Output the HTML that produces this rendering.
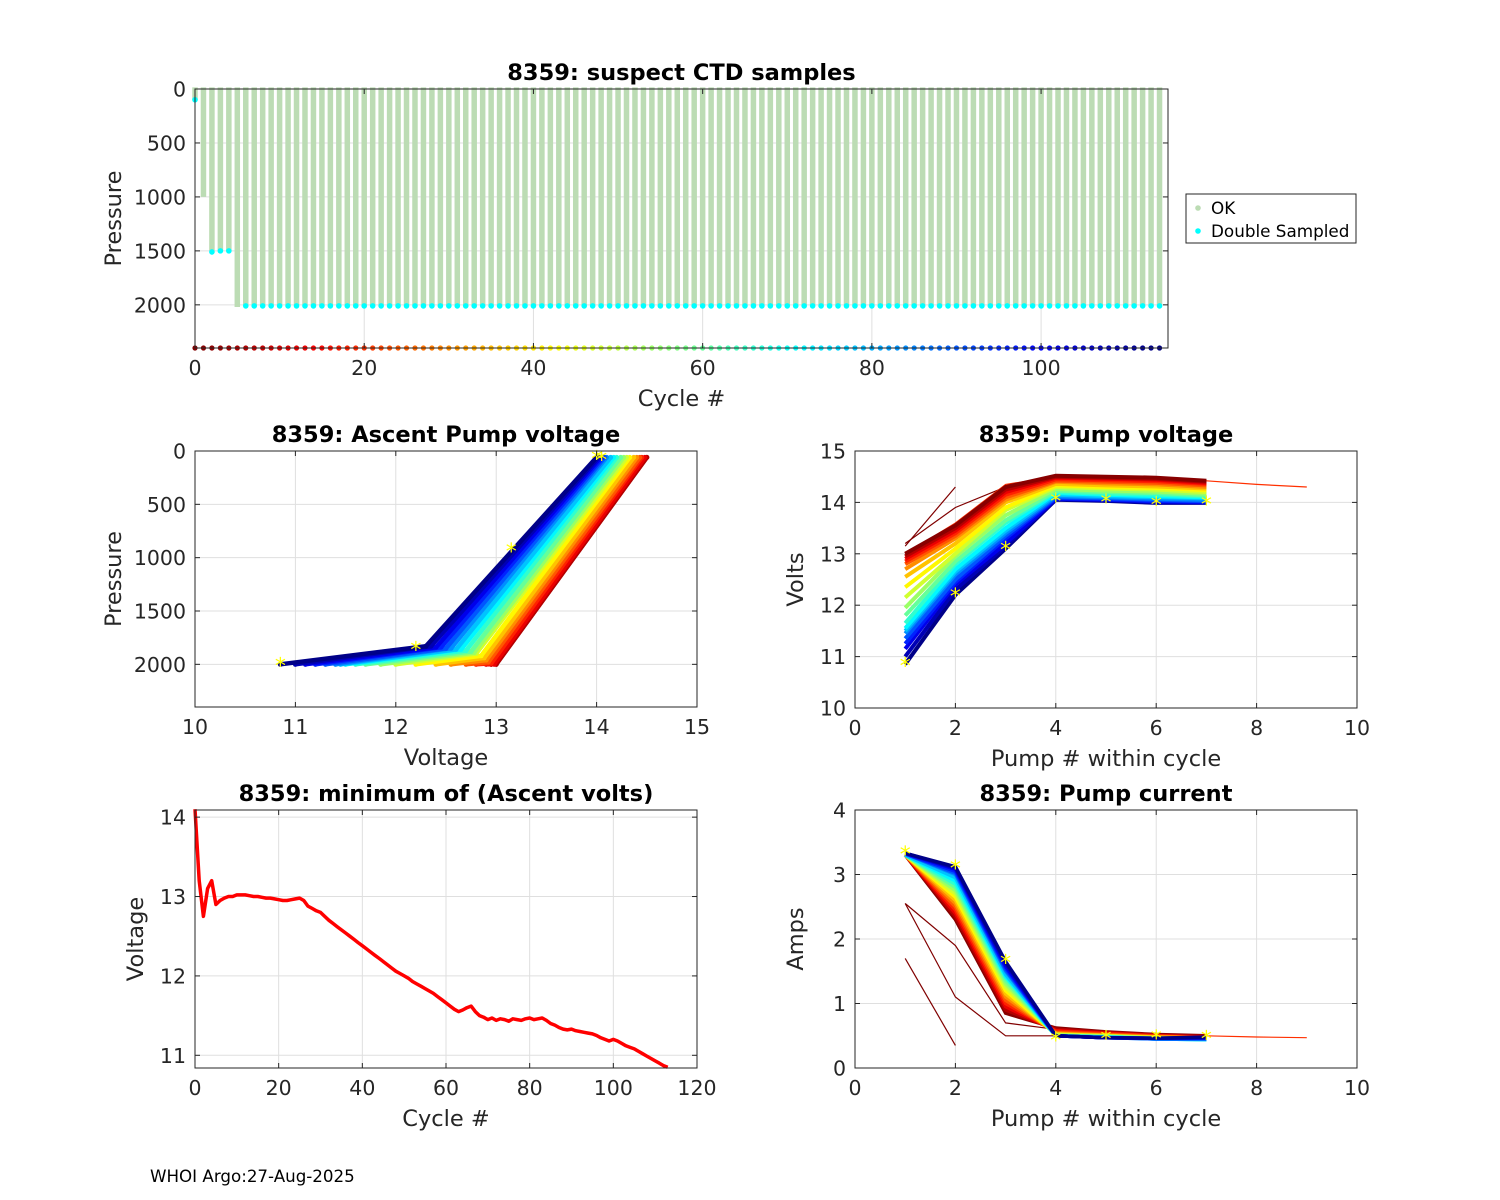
<!DOCTYPE html>
<html><head><meta charset="utf-8">
<style>
html,body{margin:0;padding:0;background:#fff;}
svg{display:block;font-family:"DejaVu Sans","Liberation Sans",sans-serif;}
</style></head>
<body>
<svg id="fig" width="1500" height="1200" viewBox="0 0 1500 1200"></svg>
<script>
// ---------- DATA ----------
const minVolt = [14.1,13.2,12.75,13.1,13.2,12.9,12.95,12.98,13.0,13.0,13.02,13.02,13.02,13.01,13.0,13.0,12.99,12.98,12.98,12.97,12.96,12.95,12.95,12.96,12.97,12.98,12.95,12.88,12.85,12.82,12.8,12.75,12.7,12.66,12.62,12.58,12.54,12.5,12.46,12.42,12.38,12.34,12.3,12.26,12.22,12.18,12.14,12.1,12.06,12.03,12.0,11.97,11.93,11.9,11.87,11.84,11.81,11.78,11.74,11.7,11.66,11.62,11.58,11.55,11.57,11.6,11.62,11.55,11.5,11.48,11.45,11.47,11.44,11.46,11.45,11.43,11.46,11.45,11.44,11.46,11.47,11.45,11.46,11.47,11.44,11.4,11.38,11.35,11.33,11.32,11.33,11.31,11.3,11.29,11.28,11.27,11.25,11.22,11.2,11.18,11.2,11.18,11.15,11.12,11.1,11.08,11.05,11.02,10.99,10.96,10.93,10.9,10.87,10.85];
const ctdCycles = 115;
const ctdMaxP = [100,1000,1500,1500,1500,2020];
const ctdDefaultP = 2000;
const dsP = [100,null,1510,1500,1500,null];

const sampleCycles = [1,6,12,18,24,30,36,42,48,54,60,66,72,78,84,90,96,102,108,113];
const pv1 = [13.0,12.95,12.9,12.85,12.8,12.7,12.55,12.35,12.15,11.95,11.8,11.65,11.55,11.5,11.45,11.35,11.25,11.15,11.0,10.85];
const pv2 = [13.55,13.5,13.45,13.4,13.35,13.3,13.2,13.1,13.0,12.95,12.85,12.8,12.7,12.65,12.6,12.5,12.45,12.4,12.3,12.2];
const pv3 = [14.3,14.25,14.2,14.15,14.1,14.05,14.0,13.9,13.85,13.75,13.65,13.6,13.5,13.45,13.4,13.35,13.3,13.2,13.15,13.1];
const pv4 = [14.52,14.5,14.48,14.45,14.42,14.4,14.36,14.33,14.3,14.26,14.23,14.2,14.18,14.15,14.12,14.1,14.08,14.07,14.06,14.05];
const pv5 = [14.5,14.48,14.46,14.43,14.4,14.37,14.33,14.3,14.27,14.23,14.2,14.17,14.15,14.12,14.1,14.08,14.06,14.05,14.04,14.03];
const pv6 = [14.48,14.46,14.44,14.41,14.38,14.35,14.31,14.28,14.25,14.21,14.18,14.15,14.12,14.1,14.07,14.05,14.03,14.02,14.0,13.99];
const pv7 = [14.42,14.4,14.38,14.36,14.33,14.3,14.27,14.24,14.2,14.17,14.14,14.12,14.1,14.08,14.05,14.03,14.02,14.0,14.0,13.99];
const pi1 = [3.3,3.3,3.3,3.3,3.3,3.3,3.3,3.3,3.3,3.3,3.3,3.3,3.3,3.3,3.32,3.32,3.32,3.33,3.33,3.33];
const pi2 = [2.3,2.35,2.4,2.45,2.5,2.55,2.6,2.65,2.7,2.75,2.8,2.85,2.9,2.95,3.0,3.02,3.05,3.08,3.1,3.12];
const pi3 = [0.85,0.9,0.95,1.0,1.05,1.1,1.15,1.2,1.25,1.3,1.35,1.4,1.42,1.45,1.5,1.52,1.55,1.58,1.62,1.65];
const pi4 = [0.62,0.6,0.58,0.57,0.55,0.54,0.53,0.52,0.52,0.51,0.5,0.5,0.5,0.5,0.5,0.5,0.5,0.5,0.5,0.5];
const pi5 = [0.56,0.55,0.54,0.53,0.52,0.51,0.5,0.5,0.5,0.49,0.49,0.48,0.48,0.48,0.47,0.47,0.47,0.47,0.47,0.47];
const pi6 = [0.52,0.51,0.5,0.5,0.49,0.48,0.48,0.47,0.47,0.46,0.46,0.45,0.45,0.45,0.45,0.45,0.46,0.46,0.46,0.46];
const pi7 = [0.5,0.49,0.48,0.47,0.47,0.46,0.46,0.45,0.45,0.44,0.44,0.44,0.44,0.44,0.45,0.45,0.46,0.47,0.47,0.48];
const ascBotV = [12.95,12.95,12.9,12.8,12.7,12.55,12.4,12.2,12.0,11.85,11.7,11.6,11.5,11.45,11.4,11.3,11.2,11.1,11.0,10.85];
const ascKneeV = [13.0,13.0,12.98,12.95,12.92,12.9,12.88,12.85,12.8,12.78,12.75,12.7,12.65,12.6,12.55,12.5,12.45,12.4,12.35,12.3];
const ascKneeP = [2000,2000,2000,1990,1980,1960,1940,1920,1900,1890,1880,1870,1860,1860,1850,1850,1840,1840,1830,1830];
const ascTopV = [14.5,14.5,14.48,14.45,14.43,14.4,14.37,14.33,14.3,14.27,14.24,14.2,14.17,14.14,14.1,14.08,14.06,14.04,14.02,14.0];
const outlierVolt = [[[1,13.15],[2,14.3]],[[1,13.2],[2,13.9],[3,14.3],[4,14.52]],[[1,13.0],[2,13.6],[3,14.35],[4,14.5],[5,14.48],[6,14.45],[7,14.42],[8,14.35],[9,14.3]]];
const outlierCurr = [[[1,2.55],[2,1.9],[3,0.7],[4,0.6]],[[1,1.7],[2,0.35]],[[1,2.55],[2,1.1],[3,0.5],[4,0.5]],[[1,3.3],[2,2.3],[3,0.85],[4,0.62],[5,0.56],[6,0.52],[7,0.5],[8,0.48],[9,0.47]]];

// ---------- HELPERS ----------
const NS="http://www.w3.org/2000/svg";
const fig=document.getElementById('fig');
function el(tag,attrs,parent){const e=document.createElementNS(NS,tag);for(const k in attrs)e.setAttribute(k,attrs[k]);(parent||fig).appendChild(e);return e;}
function jet(t){const c=v=>Math.round(255*Math.max(0,Math.min(1,v)));return `rgb(${c(1.5-Math.abs(4*t-3))},${c(1.5-Math.abs(4*t-2))},${c(1.5-Math.abs(4*t-1))})`;}
function cycColor(c){return jet(1-c/114);}
function panel(name,x0,y0,w,h,xmin,xmax,ymin,ymax,rev,xt,yt,title,xlabel,ylabel){
  const g=el('g',{});  
  const sx=v=>x0+(v-xmin)/(xmax-xmin)*w;
  const sy=rev?(v=>y0+(v-ymin)/(ymax-ymin)*h):(v=>y0+h-(v-ymin)/(ymax-ymin)*h);
  const grid=el('g',{},g);  
  xt.forEach(v=>el('line',{x1:sx(v),x2:sx(v),y1:y0,y2:y0+h,stroke:'#dfdfdf','stroke-width':1},grid));
  yt.forEach(v=>el('line',{x1:x0,x2:x0+w,y1:sy(v),y2:sy(v),stroke:'#dfdfdf','stroke-width':1},grid));
  const data=el('g',{},g);  
  const ax=el('g',{},g);
  el('rect',{x:x0,y:y0,width:w,height:h,fill:'none',stroke:'#262626','stroke-width':1},ax);
  xt.forEach(v=>{el('line',{x1:sx(v),x2:sx(v),y1:y0+h,y2:y0+h-5,stroke:'#262626'},ax);el('line',{x1:sx(v),x2:sx(v),y1:y0,y2:y0+5,stroke:'#262626'},ax);
    const t=el('text',{x:sx(v),y:y0+h+27,'text-anchor':'middle','font-size':20.5,fill:'#262626'},ax);t.textContent=v;});
  yt.forEach(v=>{el('line',{x1:x0,x2:x0+5,y1:sy(v),y2:sy(v),stroke:'#262626'},ax);el('line',{x1:x0+w,x2:x0+w-5,y1:sy(v),y2:sy(v),stroke:'#262626'},ax);
    const t=el('text',{x:x0-9,y:sy(v)+7.5,'text-anchor':'end','font-size':20.5,fill:'#262626'},ax);t.textContent=v;});
  const tt=el('text',{x:x0+w/2,y:y0-9,'text-anchor':'middle','font-size':22.5,'font-weight':'bold',fill:'#000'},g);tt.textContent=title;
  const xl=el('text',{x:x0+w/2,y:y0+h+58,'text-anchor':'middle','font-size':22.5,fill:'#262626'},g);xl.textContent=xlabel;
  const ylx=x0-(yt.some(v=>String(v).length>=4)?74:52);
  const yl=el('text',{x:ylx,y:y0+h/2,'text-anchor':'middle','font-size':22.5,fill:'#262626',transform:`rotate(-90 ${ylx} ${y0+h/2})`},g);yl.textContent=ylabel;
  return {sx,sy,data};
}
function poly(pts,attrs,parent){return el('polyline',Object.assign({points:pts.map(p=>p[0].toFixed(1)+','+p[1].toFixed(1)).join(' '),fill:'none'},attrs),parent);}
function star(P,p){const s=el('text',{x:P.sx(p[0]),y:P.sy(p[1])+9,'text-anchor':'middle','font-size':22,fill:'#ffff00'},P.data);s.textContent='*';}

// ---------- TOP: CTD samples ----------
(function(){
  const P=panel('ctd-samples-chart',195,89,973,259,0,115,0,2400,true,[0,20,40,60,80,100],[0,500,1000,1500,2000],'8359: suspect CTD samples','Cycle #','Pressure');
  for(let c=0;c<ctdCycles;c++){
    const mp=c<ctdMaxP.length?ctdMaxP[c]:ctdDefaultP;
    const b=el('line',{x1:P.sx(c),x2:P.sx(c),y1:P.sy(-15),y2:P.sy(mp),stroke:'#bcdcb4','stroke-width':5.5},P.data);
     
  }
  for(let c=0;c<ctdCycles;c++){
    const d=c<dsP.length?dsP[c]:2010; if(d==null)continue;
    const m=el('circle',{cx:P.sx(c),cy:P.sy(d),r:2.8,fill:'#00ffff'},P.data);
     
  }
  for(let c=0;c<ctdCycles;c++){
    const m=el('circle',{cx:P.sx(c),cy:P.sy(2400),r:2.6,fill:cycColor(c)},P.data);
     
  }
  const lg=el('g',{});  
  el('rect',{x:1186,y:194,width:170,height:49,fill:'#fff',stroke:'#262626'},lg);
  el('circle',{cx:1198,cy:208,r:2.8,fill:'#bcdcb4'},lg);
  el('circle',{cx:1198,cy:231,r:2.8,fill:'#00ffff'},lg);
  let t=el('text',{x:1211,y:214,'font-size':16.8,fill:'#000'},lg);t.textContent='OK';
  t=el('text',{x:1211,y:237,'font-size':16.8,fill:'#000'},lg);t.textContent='Double Sampled';
})();

// ---------- MIDDLE LEFT: Ascent pump voltage ----------
(function(){
  const P=panel('ascent-pump-voltage-chart',195,451,502,256,10,15,0,2400,true,[10,11,12,13,14,15],[0,500,1000,1500,2000],'8359: Ascent Pump voltage','Voltage','Pressure');
  for(let i=0;i<sampleCycles.length;i++){
    const col=cycColor(sampleCycles[i]);
    const pts=[[P.sx(ascBotV[i]),P.sy(2000)],[P.sx(ascKneeV[i]),P.sy(ascKneeP[i])],[P.sx(ascTopV[i]),P.sy(60)]];
    const l=poly(pts,{stroke:col,'stroke-width':4.5},P.data);  
    pts.forEach(p=>el('circle',{cx:p[0],cy:p[1],r:2.5,fill:col},P.data));
  }
  [[10.85,2000],[12.2,1850],[13.15,930],[14.0,60],[14.05,70]].forEach(p=>star(P,p));
})();

// ---------- MIDDLE RIGHT: Pump voltage ----------
(function(){
  const P=panel('pump-voltage-chart',855,451,502,257,0,10,10,15,false,[0,2,4,6,8,10],[10,11,12,13,14,15],'8359: Pump voltage','Pump # within cycle','Volts');
  outlierVolt.forEach(o=>{const l=poly(o.map(p=>[P.sx(p[0]),P.sy(p[1])]),{stroke:o.length>8?'#ff3000':'#800000','stroke-width':1.2},P.data);});
  const arrs=[pv1,pv2,pv3,pv4,pv5,pv6,pv7];
  for(let i=sampleCycles.length-1;i>=0;i--){
    const pts=arrs.map((a,k)=>[P.sx(k+1),P.sy(a[i])]);
    const l=poly(pts,{stroke:cycColor(sampleCycles[i]),'stroke-width':4},P.data);
  }
  [[1,10.85],[2,12.2],[3,13.1],[4,14.05],[5,14.03],[6,13.98],[7,13.99]].forEach(p=>star(P,p));
})();

// ---------- BOTTOM LEFT: minimum ascent volts ----------
(function(){
  const P=panel('min-ascent-volts-chart',195,810,502,258,0,120,10.84,14.09,false,[0,20,40,60,80,100,120],[11,12,13,14],'8359: minimum of (Ascent volts)','Cycle #','Voltage');
  const l=poly(minVolt.map((v,c)=>[P.sx(c),P.sy(v)]),{stroke:'#ff0000','stroke-width':3.5,'stroke-linejoin':'round'},P.data);
   
})();

// ---------- BOTTOM RIGHT: Pump current ----------
(function(){
  const P=panel('pump-current-chart',855,810,502,258,0,10,0,4,false,[0,2,4,6,8,10],[0,1,2,3,4],'8359: Pump current','Pump # within cycle','Amps');
  outlierCurr.forEach(o=>{const l=poly(o.map(p=>[P.sx(p[0]),P.sy(p[1])]),{stroke:o.length>8?'#ff3000':'#800000','stroke-width':1.2},P.data);});
  const arrs=[pi1,pi2,pi3,pi4,pi5,pi6,pi7];
  for(let i=0;i<sampleCycles.length;i++){
    const pts=arrs.map((a,k)=>[P.sx(k+1),P.sy(a[i])]);
    const l=poly(pts,{stroke:cycColor(sampleCycles[i]),'stroke-width':3.5},P.data);
  }
  [[1,3.33],[2,3.12],[3,1.65],[4,0.45],[5,0.47],[6,0.48],[7,0.47]].forEach(p=>star(P,p));
})();

const foot=el('text',{x:150,y:1182,'font-size':16.7,fill:'#000'});
foot.textContent='WHOI Argo:27-Aug-2025';


</script>
</body></html>
